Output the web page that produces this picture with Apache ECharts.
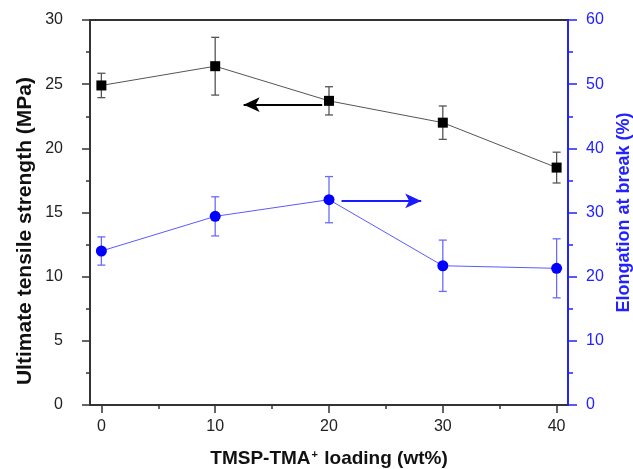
<!DOCTYPE html>
<html><head><meta charset="utf-8">
<script src="https://cdn.jsdelivr.net/npm/echarts@6/dist/echarts.min.js"></script>
<style>html,body{margin:0;padding:0;background:#fff}#c{width:633px;height:469px}</style>
</head><body><div id="c"></div>
<script>
const loading = [0, 10, 20, 30, 40];
const strength = [24.9, 26.4, 23.7, 22.0, 18.5];
const strengthErr = [0.95, 2.25, 1.1, 1.3, 1.2];
const elongation = [24.0, 29.4, 32.0, 21.7, 21.3];
const elongationErr = [2.2, 3.05, 3.6, 4.0, 4.6];
const xMajorTicks = [0, 10, 20, 30, 40];
const xMinorTicks = [5, 15, 25, 35];
const leftArrow = [[19.4, 23.4], [12.5, 23.4]];
const rightArrow = [[21.1, 31.8], [28.1, 31.8]];
const leftTitle = 'Ultimate tensile strength (MPa)';
const rightTitle = 'Elongation at break (%)';

const FONT = '"Liberation Sans", Arial, sans-serif';
const chart = echarts.init(document.getElementById('c'), null, {renderer: 'canvas'});

function errSeries(vals, errs, yIdx, color) {
  return {
    type: 'custom', xAxisIndex: 0, yAxisIndex: yIdx, z: 1, silent: true,
    data: loading.map((x, i) => [x, vals[i] - errs[i], vals[i] + errs[i]]),
    renderItem: function (params, api) {
      const lo = api.coord([api.value(0), api.value(1)]);
      const hi = api.coord([api.value(0), api.value(2)]);
      const w = 4;
      const st = {stroke: color, lineWidth: 1.3};
      return {type: 'group', children: [
        {type: 'line', shape: {x1: lo[0], y1: lo[1], x2: hi[0], y2: hi[1]}, style: st},
        {type: 'line', shape: {x1: lo[0] - w, y1: lo[1], x2: lo[0] + w, y2: lo[1]}, style: st},
        {type: 'line', shape: {x1: hi[0] - w, y1: hi[1], x2: hi[0] + w, y2: hi[1]}, style: st}
      ]};
    }
  };
}

chart.setOption({
  animation: false,
  textStyle: {fontFamily: FONT},
  grid: {left: 90, right: 65, top: 20, bottom: 64, containLabel: false, outerBoundsMode: 'none',
    show: true, borderColor: '#333', borderWidth: 2},
  graphic: [{
    type: 'text', left: 15, top: 77, silent: true,
    style: {text: leftTitle, font: 'bold 21px ' + FONT, fill: '#111'},
    rotation: Math.PI / 2, originX: 0, originY: 0
  }],
  xAxis: [{
    type: 'value', min: -1, max: 41, position: 'bottom',
    axisLine: {show: true, onZero: false, lineStyle: {color: '#333', width: 2}},
    axisTick: {show: true, customValues: xMajorTicks, length: 8, lineStyle: {color: '#333', width: 1.5}},
    axisLabel: {customValues: xMajorTicks, margin: 14, fontSize: 16, color: '#222', fontFamily: FONT},
    splitLine: {show: false},
    name: '{b|TMSP-TMA}{s|+}{b| loading (wt%)}', nameLocation: 'middle', nameGap: 44,
    nameTextStyle: {rich: {
      b: {fontSize: 19, fontWeight: 'bold', color: '#111', fontFamily: FONT},
      s: {fontSize: 11, fontWeight: 'bold', color: '#111', fontFamily: FONT, verticalAlign: 'top', padding: [0, 1, 8, 1]}
    }}
  }, {
    type: 'value', min: -1, max: 41, position: 'bottom',
    axisLine: {show: false, onZero: false},
    axisTick: {show: true, customValues: xMinorTicks, length: 4, lineStyle: {color: '#333', width: 1.5}},
    axisLabel: {show: false}, splitLine: {show: false}
  }],
  yAxis: [{
    type: 'value', min: 0, max: 30, interval: 5, position: 'left',
    axisLine: {show: true, onZero: false, lineStyle: {color: '#333', width: 2}},
    axisTick: {show: true, length: 8, lineStyle: {color: '#333', width: 1.5}},
    minorTick: {show: true, splitNumber: 2, length: 4, lineStyle: {color: '#333', width: 1.5}},
    axisLabel: {margin: 27, fontSize: 16, color: '#222', fontFamily: FONT},
    splitLine: {show: false}
  }, {
    type: 'value', min: 0, max: 60, interval: 10, position: 'right',
    axisLine: {show: true, onZero: false, lineStyle: {color: '#2222ff', width: 2}},
    axisTick: {show: true, length: 9, lineStyle: {color: '#2222ff', width: 1.5}},
    minorTick: {show: true, splitNumber: 2, length: 5, lineStyle: {color: '#2222ff', width: 1.5}},
    axisLabel: {margin: 18, fontSize: 16, color: '#2222ff', fontFamily: FONT},
    splitLine: {show: false},
    name: rightTitle, nameLocation: 'middle', nameGap: 46,
    nameTextStyle: {fontSize: 18, fontWeight: 'bold', color: '#2222ff', fontFamily: FONT}
  }],
  series: [
    errSeries(strength, strengthErr, 0, '#555'),
    errSeries(elongation, elongationErr, 1, '#6a6aff'),
    {
      type: 'line', xAxisIndex: 0, yAxisIndex: 0, z: 3,
      data: loading.map((x, i) => [x, strength[i]]),
      symbol: 'rect', symbolSize: 10, showSymbol: true,
      itemStyle: {color: '#000'}, lineStyle: {color: '#555', width: 1},
      markLine: {silent: true, symbol: ['none', 'arrow'], symbolSize: [11, 16],
        label: {show: false}, lineStyle: {color: '#000', width: 2, type: 'solid'},
        data: [[{coord: leftArrow[0]}, {coord: leftArrow[1]}]]}
    },
    {
      type: 'line', xAxisIndex: 0, yAxisIndex: 1, z: 3,
      data: loading.map((x, i) => [x, elongation[i]]),
      symbol: 'circle', symbolSize: 11, showSymbol: true,
      itemStyle: {color: '#0000ff'}, lineStyle: {color: '#5a5aff', width: 1},
      markLine: {silent: true, symbol: ['none', 'arrow'], symbolSize: [11, 16],
        label: {show: false}, lineStyle: {color: '#1a1aff', width: 2, type: 'solid'},
        data: [[{coord: rightArrow[0]}, {coord: rightArrow[1]}]]}
    }
  ]
});
</script></body></html>
